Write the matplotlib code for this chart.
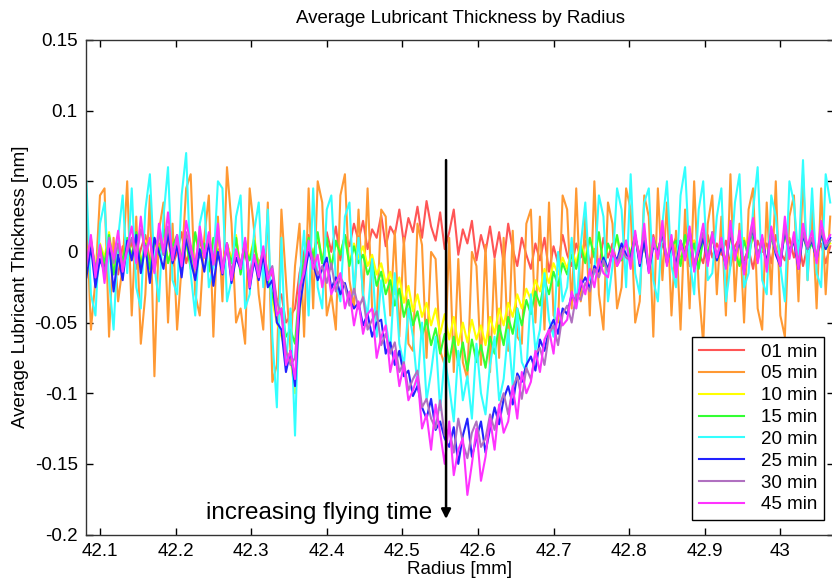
import matplotlib
matplotlib.use("Agg")
import matplotlib.pyplot as plt
import numpy as np

plt.rcParams['font.family'] = ['Liberation Sans', 'DejaVu Sans']

# radius grid: 42.082 mm + 0.006 mm steps (165 samples)
radius = 42.082 + 0.006 * np.arange(165)

labels = ["01 min", "05 min", "10 min", "15 min", "20 min", "25 min", "30 min", "45 min"]
colors = ["#ff5555", "#ff9933", "#ffff00", "#33ff33", "#33ffff", "#2222ff", "#b070c0", "#ff33ff"]

# thickness values in units of 0.001 nm
t01 = [-8, 6, -14, 2, -10, 10, -4, -16, 4, -6,
       8, -12, 2, 12, -6, -14, 6, -2, 10, -10,
       0, 14, -8, 4, -12, 8, -4, 12, -10, 2,
       -14, 6, -6, 10, -12, 0, -18, 4, -8, -2,
       -20, -15, -35, -30, -50, -45, -40, -15, 0, 12,
       -4, 10, -8, 14, 0, 18, -6, 12, 4, 20,
       8, 22, 2, 16, 10, 26, 4, 18, 12, 30,
       6, 24, 14, 32, 10, 36, 18, 8, 28, 2,
       14, 30, -2, 16, 6, 22, -6, 12, 0, 18,
       -4, 14, -8, 20, 2, -10, 10, -2, -12, 6,
       -6, 10, -14, 4, -8, 12, -2, -10, 6, -4,
       8, -8, 2, -12, 10, -4, 6, -10, 0, 8,
       -6, 10, -2, 4, -10, 12, -4, 6, -8, 2,
       10, -6, 4, -10, 8, 0, -8, 12, -4, 6,
       -2, 8, -10, 4, 10, -6, 2, -12, 8, 0,
       6, -8, 12, 0, -6, 10, -4, 8, -10, 4,
       10, -2, 6, -8, 4]
t05 = [30, -55, -20, 40, 45, -60, 10, -35, -10, 50,
       -45, 25, -65, -30, 40, -88, 15, 35, -50, 20,
       -55, -10, 45, 55, -30, -45, 10, 40, -60, 25,
       -35, 60, 20, -50, -40, -65, 45, 15, -30, -55,
       35, -92, -80, 30, -20, -70, -10, 20, -60, 45,
       -40, 50, 35, -45, -30, -55, 40, 55, -20, -40,
       30, -35, 45, -40, -50, 30, 25, -45, 15, -60,
       10, -65, -70, 20, 5, -75, 0, -5, -70, -80,
       10, -85, -5, -78, -90, 0, -10, -80, 5, -85,
       -5, -75, 10, -70, 15, -60, -65, 20, 30, -50,
       25, -55, 35, -45, -50, 40, 30, -40, 45, -35,
       25, -45, 50, -30, -55, 35, 20, -40, -25, 45,
       30, -50, -35, 40, 25, -60, 45, -20, 35, -45,
       15, -55, 30, -40, 50, -25, -65, 20, 40, -30,
       25, -45, 55, -35, 20, -50, 30, 45, -40, -55,
       35, -30, 50, -45, -60, 25, 40, -35, 55, -20,
       30, -40, 45, -30, 25]
t10 = [-6, 10, -12, 6, -4, 14, -10, 4, -8, 8,
       -2, 12, -8, 8, -14, 6, 0, 12, -6, 2,
       10, -8, 6, -10, 12, -2, 4, -12, 8, 0,
       -10, 6, -6, 12, -14, 4, -4, 10, -12, 2,
       -15, -35, -50, -60, -70, -75, -100, -45, -10, 8,
       -2, 12, -6, 8, -10, 6, 0, 10, -8, 6,
       -4, 4, -10, -2, -16, -8, -22, -14, -30, -18,
       -36, -24, -42, -30, -46, -36, -52, -40, -58, -44,
       -62, -46, -66, -50, -64, -48, -62, -52, -66, -46,
       -58, -40, -52, -36, -46, -30, -40, -26, -34, -20,
       -28, -12, -22, -8, -16, -4, -12, 2, -8, 6,
       -4, 10, -2, 12, -8, 4, 0, 10, -4, 6,
       0, 10, -6, 8, -10, 8, 2, 12, -4, 6,
       6, -8, 10, -2, 8, -10, 12, 0, 10, -4,
       6, -6, 10, 2, -8, 10, -2, 12, 0, 4,
       -6, 12, 4, -4, 12, 0, 10, -8, 14, 2,
       8, -2, 10, 4, 6]
t15 = [-10, 8, -14, 4, -8, 12, -16, 2, -6, 10,
       -4, 14, -10, 6, -12, 10, -2, 16, -8, 4,
       12, -6, 8, -12, 14, -4, 6, -14, 10, -2,
       -12, 4, -8, 10, -16, 2, -6, 8, -14, 0,
       -20, -30, -45, -40, -60, -55, -65, -25, -5, 10,
       -4, 14, -8, 10, -12, 8, -2, 12, -10, 4,
       -8, -2, -16, -8, -24, -14, -30, -20, -38, -26,
       -46, -34, -52, -42, -60, -48, -66, -54, -72, -58,
       -78, -60, -80, -64, -84, -62, -78, -66, -82, -60,
       -72, -52, -66, -46, -58, -40, -52, -34, -44, -28,
       -38, -20, -30, -14, -24, -8, -16, -2, -12, 4,
       -8, 10, -4, 14, -10, 6, -2, 12, -6, 8,
       -2, 12, -8, 6, -12, 10, 0, 14, -6, 4,
       8, -10, 12, -4, 6, -12, 10, -2, 14, -6,
       4, -8, 12, 0, -10, 8, -4, 14, -2, 6,
       -8, 10, 2, -6, 14, -2, 8, -10, 12, 0,
       6, -4, 12, 2, 8]
t20 = [50, -30, -45, 20, 35, -20, -55, 10, 40, -15,
       45, -25, -40, 30, 55, -10, -35, 25, 60, -20,
       -30, 40, 70, -15, -45, 20, 35, -25, -10, 50,
       45, -35, -20, 25, 40, -40, -30, 15, 35, -25,
       30, -60, -110, 10, -80, -40, -130, -20, 15, -45,
       45, -25, -40, 30, 40, -20, -35, 25, 35, -30,
       10, -30, -45, -5, -60, -20, -50, -70, -15, -65,
       -80, -40, -60, -95, -50, -105, -85, -60, -112, -75,
       -95, -120, -70, -105, -88, -118, -65, -100, -115, -80,
       -60, -105, -90, -55, -95, -40, -78, -85, -30, -70,
       -55, -15, -48, -60, 0, -35, -25, 10, -40, 5,
       35, -20, -15, 40, 25, -35, -10, 45, 30, -25,
       55, -15, -30, 35, 45, -20, -35, 20, 50, -10,
       -25, 40, 60, -5, -30, 30, 50, -20, -15, 25,
       45, -35, -10, 35, 55, -25, -15, 30, 60, -20,
       -30, 40, 25, -10, -35, 50, 35, -5, 65, -20,
       45, -15, -25, 55, 35]
t25 = [-18, 4, -25, -5, -14, 6, -28, -2, -20, 8,
       -6, 12, -15, 4, -22, 10, 0, -12, 14, -8,
       5, -18, 10, -6, -20, 2, -14, 8, -24, 0,
       -16, 6, -22, -4, -12, 8, -26, -6, -20, -2,
       -25, -20, -50, -55, -85, -70, -95, -40, -18, 0,
       -8, -20, -12, -4, -26, -18, -30, -22, -34, -40,
       -36, -52, -44, -60, -50, -48, -72, -64, -80, -70,
       -88, -84, -102, -95, -110, -118, -104, -126, -120, -132,
       -138, -124, -150, -130, -118, -145, -132, -120, -142, -125,
       -110, -122, -104, -95, -108, -86, -92, -80, -74, -84,
       -62, -70, -55, -48, -58, -40, -44, -30, -36, -24,
       -18, -26, -10, -14, -4, -12, 0, -6, 6, -2,
       -4, 12, -10, 8, -14, 4, 0, 14, -8, 6,
       -10, 8, -4, 16, -12, 0, 10, -8, 12, -6,
       4, -10, 14, -2, 8, -14, 6, 16, -6, 10,
       -8, 14, -2, -10, 16, 0, 8, -12, 12, 2,
       8, -6, 14, 2, 10]
t30 = [-5, 8, -12, 2, -16, 10, -8, 6, -10, 0,
       10, -4, 16, 2, 8, -10, 14, -2, 18, 0,
       8, -6, 14, 0, -8, 12, -2, 10, -6, 14,
       -10, 4, -14, 0, -8, 6, -18, -4, -12, 2,
       -16, -10, -35, -45, -70, -80, -75, -30, -10, 4,
       -5, -16, -10, -22, -8, -28, -18, -24, -38, -26,
       -40, -32, -55, -48, -42, -66, -58, -72, -64, -85,
       -78, -98, -90, -84, -110, -104, -118, -125, -105, -130,
       -125, -142, -118, -135, -146, -128, -120, -138, -132, -115,
       -126, -110, -100, -115, -96, -88, -104, -82, -90, -72,
       -68, -80, -58, -52, -66, -44, -38, -50, -30, -34,
       -22, -28, -12, -18, -6, -14, 0, -8, 2, -4,
       -6, 10, -4, 14, -10, 6, -2, 16, -6, 8,
       -12, 4, -2, 12, -8, 2, 14, -6, 10, -2,
       6, -8, 16, -4, 10, -12, 4, 18, -4, 8,
       -10, 12, 0, -6, 18, -2, 10, -8, 14, 2,
       10, -4, 16, 4, 8]
t45 = [-10, 12, -18, 5, -22, 8, -5, 15, -14, 3,
       18, -8, 25, -3, 10, -15, 20, 0, 28, -6,
       12, -10, 22, 5, -12, 18, -4, 14, -9, 20,
       -15, 6, -20, 2, -12, 10, -25, -2, -18, 4,
       -20, -12, -45, -40, -80, -70, -90, -25, -15, 8,
       -12, -2, -25, -8, -30, -22, -15, -40, -28, -52,
       -35, -58, -44, -40, -75, -60, -52, -85, -70, -95,
       -80, -105, -98, -88, -125, -115, -140, -108, -128, -150,
       -120, -158, -140, -132, -172, -150, -125, -162, -145, -118,
       -140, -108, -128, -120, -95, -118, -85, -100, -92, -70,
       -85, -62, -55, -72, -40, -52, -48, -28, -40, -20,
       -30, -12, -25, -5, -15, -18, 2, -10, -4, 8,
       -12, 15, -8, 20, -15, 10, -5, 22, -10, 12,
       -18, 8, -6, 18, -14, 4, 20, -10, 14, -4,
       10, -12, 22, -6, 15, -16, 8, 24, -8, 12,
       -14, 18, 2, -10, 25, -5, 14, -12, 20, 4,
       15, -8, 22, 6, 12]

series = [t01, t05, t10, t15, t20, t25, t30, t45]

fig = plt.figure(figsize=(8.32, 5.86), dpi=100)
ax = fig.add_axes([86 / 832, 51.5 / 586, 748 / 832, 494.5 / 586])

for vals, col, lab in zip(series, colors, labels):
    ax.plot(radius, np.array(vals) / 1000.0, color=col, lw=1.5, label=lab)

ax.set_xlim(42.0815, 43.071)
ax.set_ylim(-0.2, 0.15)
ax.set_xticks([42.1, 42.2, 42.3, 42.4, 42.5, 42.6, 42.7, 42.8, 42.9, 43.0])
ax.set_xticklabels(["42.1", "42.2", "42.3", "42.4", "42.5", "42.6", "42.7", "42.8", "42.9", "43"])
ax.set_yticks([-0.2, -0.15, -0.1, -0.05, 0, 0.05, 0.1, 0.15])
ax.set_yticklabels(["-0.2", "-0.15", "-0.1", "-0.05", "0", "0.05", "0.1", "0.15"])
ax.tick_params(direction='in', length=5, width=1, top=True, right=True, labelsize=13.5, pad=6)
for sp in ax.spines.values():
    sp.set_color('#333333')
    sp.set_linewidth(1.0)

ax.set_title("Average Lubricant Thickness by Radius", fontsize=13.5, pad=12)
ax.set_xlabel("Radius [mm]", fontsize=13.5, labelpad=1)
ax.set_ylabel("Average Lubricant Thickness [nm]", fontsize=13.5, labelpad=4)

ax.annotate("", xy=(42.5578, -0.189), xytext=(42.5578, 0.065),
            arrowprops=dict(arrowstyle='-|>', color='black', lw=1.8,
                            mutation_scale=14, shrinkA=0, shrinkB=0))
ax.text(42.5393, -0.1845, "increasing flying time", ha='right', va='center', fontsize=17.5)

leg = ax.legend(loc='upper right', bbox_to_anchor=(0.9866, 0.3994), borderaxespad=0,
                fancybox=False, framealpha=1, edgecolor='black', fontsize=13.5,
                handlelength=2.4, labelspacing=0.25, borderpad=0.35, handletextpad=0.9)
leg.get_frame().set_linewidth(1.0)

fig.savefig("out.png", dpi=100)
